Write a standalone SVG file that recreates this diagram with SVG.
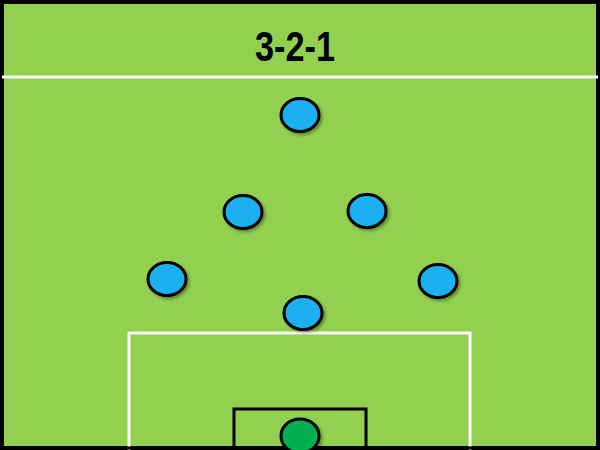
<svg xmlns="http://www.w3.org/2000/svg" width="600" height="450" viewBox="0 0 600 450">
  <defs>
    <style>
      .field { fill: #92d050; stroke: #000; stroke-width: 4; }
      .line { fill: none; stroke: #fff; stroke-width: 3; }
      .goal { fill: none; stroke: #000; stroke-width: 3; }
      .player { fill: #1cb0f0; stroke: #000; stroke-width: 3; filter: url(#shadow); }
      .keeper { fill: #00b050; stroke: #000; stroke-width: 3; filter: url(#shadow); }
      .title { font-family: "Liberation Sans", Arial, sans-serif; font-weight: bold; font-size: 42px; fill: #000; }
    </style>
    <filter id="shadow" x="-30%" y="-30%" width="160%" height="160%">
      <feDropShadow dx="2" dy="2" stdDeviation="1.5" flood-color="#000" flood-opacity="0.35"/>
    </filter>
  </defs>
  <rect class="field" x="2" y="2" width="596" height="446"/>
  <g id="pitch-lines">
    <line class="line" x1="2" y1="77" x2="598" y2="77"/>
    <path class="line" d="M129,450 V333 H470 V450" stroke-width="2.5"/>
    <path class="goal" d="M234,450 V409 H366 V450"/>
    <line x1="0" y1="448" x2="600" y2="448" stroke="#000" stroke-width="3"/>
  </g>
  <text class="title" x="295" y="61" text-anchor="middle" textLength="80" lengthAdjust="spacingAndGlyphs">3-2-1</text>
  <g id="p-forward"><ellipse class="player" cx="300" cy="115" rx="19" ry="16.5"/></g>
  <g id="p-mid-left"><ellipse class="player" cx="243" cy="212" rx="19" ry="16.5"/></g>
  <g id="p-mid-right"><ellipse class="player" cx="367" cy="211" rx="19" ry="16.5"/></g>
  <g id="p-def-left"><ellipse class="player" cx="167" cy="279" rx="19" ry="16.5"/></g>
  <g id="p-def-right"><ellipse class="player" cx="438" cy="281" rx="19" ry="16.5"/></g>
  <g id="p-def-center"><ellipse class="player" cx="303" cy="313" rx="19" ry="16.5"/></g>
  <g id="p-keeper"><ellipse class="keeper" cx="300" cy="436" rx="19" ry="17"/></g>
</svg>
